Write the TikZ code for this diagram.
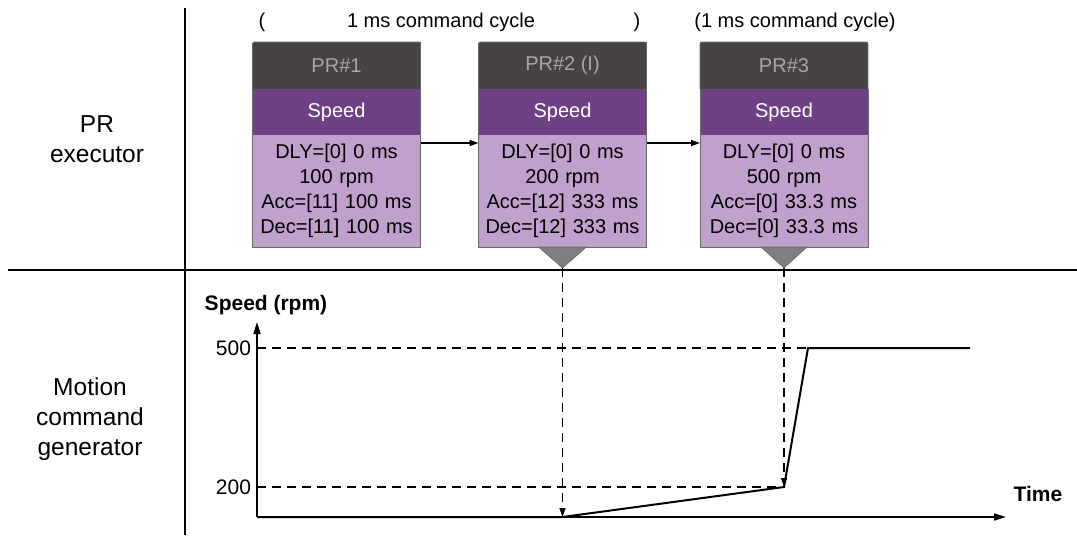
\documentclass[tikz,border=0pt]{standalone}
\usepackage{fontspec}
\setmainfont{Liberation Sans}
\usetikzlibrary{arrows.meta}
\definecolor{hdr}{HTML}{474344}
\definecolor{spd}{HTML}{6E4186}
\definecolor{bdy}{HTML}{C0A0CC}
\definecolor{hdrtxt}{HTML}{A6A6A6}
\definecolor{tri}{HTML}{7F7F7F}
\definecolor{edge}{HTML}{6A6A6A}
\begin{document}
\begin{tikzpicture}[x=1pt,y=-1pt,
  every node/.style={font=\fontsize{20}{25}\selectfont, inner sep=0pt, outer sep=0pt},
  hdrbox/.style={fill=hdr, text=hdrtxt, minimum width=168pt, minimum height=47pt, anchor=north},
  spdbox/.style={fill=spd, text=white, minimum width=168pt, minimum height=46pt, anchor=north},
  bdybox/.style={fill=bdy, text=black, text width=168pt, align=center, minimum height=112pt, anchor=north},
  frame/.style={draw=edge, line width=0.8pt},
  side/.style={font=\fontsize{24.5}{30}\selectfont, align=center},
  boldlbl/.style={font=\fontsize{21}{25}\selectfont\bfseries},
  divider/.style={line width=1.3pt},
  axis/.style={line width=1.6pt, -{Triangle[length=12pt,width=7pt]}},
  guide/.style={line width=1.3pt, dash pattern=on 9pt off 6pt},
  guidearrow/.style={guide, -{Triangle[length=9pt,width=6pt]}},
  curve/.style={line width=2pt, line join=miter},
  link/.style={line width=1.4pt, -{Triangle[length=9pt,width=6pt]}},
  marker/.style={fill=tri, draw=edge, line width=0.6pt}
]
\useasboundingbox (0,0) rectangle (1077,539);

% dividers
\coordinate (vtop) at (185,8);
\coordinate (vbot) at (185,535);
\coordinate (hl) at (8,270);
\coordinate (hr) at (1077,270);
\draw[divider] (vtop) -- (vbot);
\draw[divider] (hl) -- (hr);

% side labels
\node[side] (lexec) at (97,139) {PR\\executor};
\node[side] (lgen) at (90,419) {Motion\\command\\generator};

% top labels
\node (lpo) at (262,22) {(};
\node (lcyc) at (441,22) {1 ms command cycle};
\node (lpc) at (637,22) {)};
\node (lcyc2) at (795,22) {(1 ms command cycle)};

% PR boxes
\foreach \n/\cx/\title/\rpm/\acc/\dec in {1/336.5/PR\#1/100 rpm/Acc=[11] 100 ms/Dec=[11] 100 ms,
                                          2/562.5/PR\#2 (I)/200 rpm/Acc=[12] 333 ms/Dec=[12] 333 ms,
                                          3/784/PR\#3/500 rpm/Acc=[0] 33.3 ms/Dec=[0] 33.3 ms}{
  \node[hdrbox] (h\n) at (\cx,42) {\title};
  \node[spdbox] (s\n) at (h\n.south) {Speed};
  \node[bdybox] (b\n) at (s\n.south) {DLY=[0] 0 ms\\\rpm\\\acc\\\dec};
  \draw[frame, rounded corners=2pt] (h\n.south west) |- (h\n.north east) -- (h\n.south east);
  \draw[frame] (h\n.south west) -- (b\n.south west) -- (b\n.south east) -- (h\n.south east);
}

% links between boxes
\draw[link] ([yshift=-8pt]b1.north east) -- ([yshift=-8pt]b2.north west);
\draw[link] ([yshift=-8pt]b2.north east) -- ([yshift=-8pt]b3.north west);

% markers under PR#2 and PR#3
\coordinate (t2) at (562.5,268);
\coordinate (t3) at (784,268);
\draw[marker] ([xshift=-24pt]b2.south) -- ([xshift=24pt]b2.south) -- (t2) -- cycle;
\draw[marker] ([xshift=-23pt]b3.south) -- ([xshift=23pt]b3.south) -- (t3) -- cycle;

% chart
\coordinate (o) at (257,517);
\coordinate (ytop) at (257,322);
\coordinate (xend) at (1006,517);
\coordinate (y500) at (257,348);
\coordinate (y200) at (257,487);
\coordinate (p1) at (562.5,517);
\coordinate (p2) at (784,487);
\coordinate (p3) at (808,348);
\coordinate (p4) at (970,348);

\node[boldlbl] (lspeed) at (266,305) {Speed (rpm)};
\node[boldlbl] (ltime) at (1038,494) {Time};
\node[anchor=east, font=\fontsize{21}{25}\selectfont] (l500) at (251,348) {500};
\node[anchor=east, font=\fontsize{21}{25}\selectfont] (l200) at (251,487) {200};

\draw[guide] (y500) -- (p3);
\draw[guide] (y200) -- (p2);
\draw[axis] (o) -- (ytop);
\draw[axis] (o) -- (xend);
\draw[curve] (o) -- (p1) -- (p2) -- (p3) -- (p4);
\draw[guidearrow] (t2) -- (p1);
\draw[guidearrow] (t3) -- (p2);
\end{tikzpicture}
\end{document}
